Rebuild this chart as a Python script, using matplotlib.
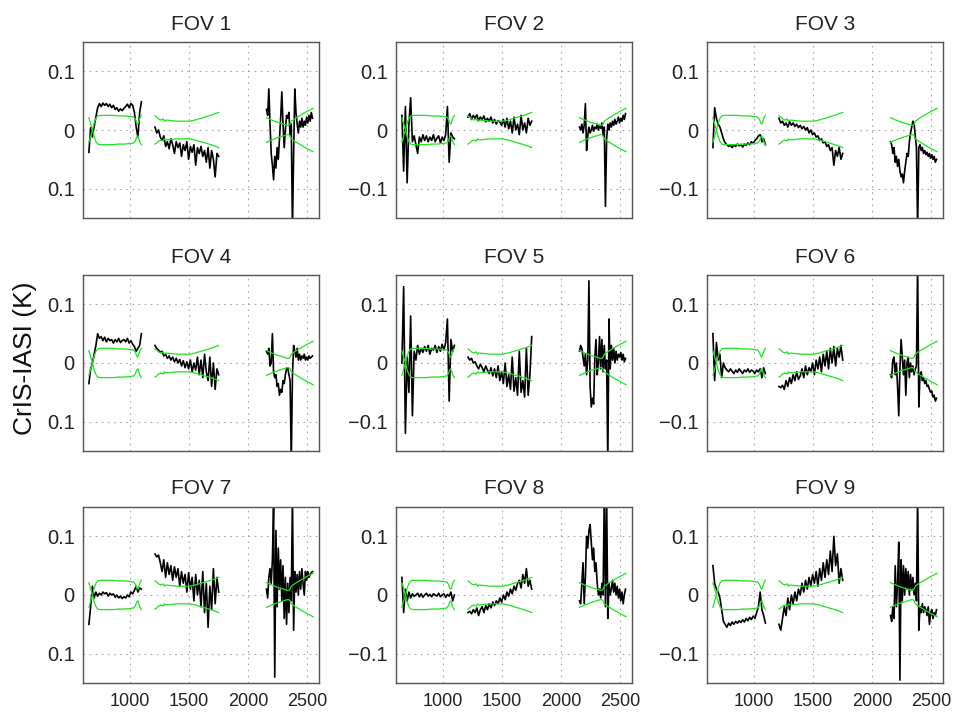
import numpy as np
import matplotlib
matplotlib.use("Agg")
import matplotlib.pyplot as plt

plt.rcParams["font.family"] = ["Liberation Sans", "DejaVu Sans"]

# spectral bands (cm-1): LW, MW, SW
bands = [(650, 1095), (1210, 1750), (2155, 2545)]

# noise envelope in mK; the lower curve is the mirror image
env_lw_x = [650, 665, 680, 695, 710, 725, 750, 800, 850, 900, 950, 1000, 1030, 1045, 1055, 1065, 1075, 1085, 1095]
env_lw = [-21, -10, 0, 12, 20, 24, 25, 25, 25, 24, 24, 23, 22, 18, 12, 10, 16, 22, 25]
env_mw_x = [1210, 1225, 1240, 1260, 1280, 1290, 1300, 1350, 1400, 1450, 1500, 1550, 1600, 1650, 1700, 1750]
env_mw = [24, 22, 19, 17, 19, 15, 17, 16, 15, 15, 15, 17, 20, 23, 26, 30]
env_sw_x = [2155, 2200, 2250, 2300, 2330, 2345, 2355, 2365, 2400, 2450, 2500, 2550]
env_sw = [21, 17, 13, 10, 8, 8, 10, 15, 20, 26, 32, 37]

# CrIS minus IASI, mK, evenly spaced across each band
fov1_lw = [-38, 4, -12, 6, 22, 38, 45, 40, 46, 42, 45, 40, 44, 38, 42, 35, 38, 32, 36, 33, 37, 40, 44, 38, 45, 42, 30, 5, -12, 30, 48]
fov1_mw = [5, -5, 0, -12, -18, -10, -28, -20, -32, -15, -25, -40, -20, -30, -22, -45, -25, -35, -20, -50, -28, -38, -25, -60, -30, -40, -28, -45, -35, -55, -30, -65, -35, -50, -80, -40, -45]
fov1_sw = [35, 25, 70, 10, -40, -60, -85, -45, -65, -30, -50, -15, 20, 65, 10, -30, 0, 25, 20, 30, -10, 10, -170, -40, 70, 30, 10, -5, 15, 5, 20, 5, 15, 8, 22, 12, 25, 15, 30, 20]

fov2_lw = [25, -70, 40, -90, 10, 55, -20, -10, -25, -40, -12, -20, -8, -18, -10, -20, -12, -18, -8, -20, -14, -10, -22, -12, -18, -8, 40, -55, -5, -12, -15]
fov2_mw = [22, 28, 18, 25, 20, 26, 16, 22, 18, 24, 14, 20, 15, 22, 12, 18, 10, 16, 14, 8, 18, 5, 20, 2, 15, -5, 22, 0, 10, -8, 25, 0, 12, -5, 20, 8, 15]
fov2_sw = [5, 0, 10, -5, 8, 45, -35, -10, 5, -5, 0, 8, -2, 5, 2, 10, 0, 8, 3, 12, -10, 5, -130, -15, 10, 0, 12, 5, 15, 8, 18, 10, 15, 22, 12, 20, 15, 25, 18, 28]

fov3_lw = [-30, 38, 20, 10, 5, -5, -15, -22, -25, -28, -26, -30, -25, -28, -24, -27, -25, -29, -24, -26, -22, -25, -20, -23, -18, -15, -10, -8, -20, -15, -25]
fov3_mw = [20, 12, 15, 8, 12, 5, 14, 8, 12, 6, 10, 4, 8, 2, 6, 0, 4, -5, 0, -8, -5, -12, -10, -18, -15, -22, -20, -28, -25, -35, -30, -60, -35, -45, -30, -50, -40]
fov3_sw = [-20, -25, -40, -30, -55, -45, -62, -50, -70, -80, -75, -90, -70, -55, -40, -45, -20, -5, 5, 15, 10, -10, -30, -170, -30, -25, -35, -30, -40, -35, -42, -38, -45, -40, -48, -42, -50, -45, -55, -50]

fov4_lw = [-35, -10, 0, 15, 30, 50, 42, 45, 38, 44, 36, 42, 38, 40, 34, 40, 36, 42, 35, 38, 40, 36, 42, 34, 38, 32, 28, 20, 25, 30, 50]
fov4_mw = [30, 25, 22, 18, 20, 12, 15, 8, 12, 5, 10, 2, 8, 0, 6, -5, 4, -8, 2, -10, 5, -15, 0, -12, 10, -20, 5, -25, 15, -15, -30, 10, -40, 0, -45, -10, -20]
fov4_sw = [20, 15, 25, -5, 0, 50, -15, -25, -20, -40, -35, -55, -45, -50, -30, -35, -20, -10, -8, -20, -30, -170, -20, 30, 20, 10, 25, 5, 15, 5, 12, 8, 15, 5, 10, 5, 12, 8, 10, 12]

fov5_lw = [0, 130, -120, 10, -50, 80, -90, 20, 5, 30, 15, 25, 18, 28, 20, 30, 15, 25, 22, 30, 18, 28, 20, 32, 22, 35, 75, -65, 40, 20, 30]
fov5_mw = [10, 5, 8, 0, 2, -5, -10, -2, -8, -15, -5, -12, -18, -8, -22, -10, -25, -5, -30, -15, -35, 0, -40, -20, -45, 10, -48, -25, -55, 20, -50, -30, -58, 25, -55, -20, 45]
fov5_sw = [20, 30, 25, 10, -5, 15, -20, 5, 140, -40, -75, -60, -70, 10, 40, -20, 0, 45, -10, 40, -15, 30, -10, 5, -170, 75, -10, 30, 5, 25, 0, 20, 5, 15, 10, 18, 5, 15, 2, 8]

fov6_lw = [50, -30, 35, 5, 15, -25, 0, -8, -12, -15, -10, -14, -18, -12, -16, -10, -14, -18, -12, -15, -10, -16, -12, -14, -18, -12, -15, -10, -25, -8, -18]
fov6_mw = [-40, -42, -38, -45, -30, -40, -25, -35, -20, -30, -15, -28, -22, -10, -25, -5, -20, -8, -15, 0, -20, 5, -10, 10, -15, 15, -5, 20, -10, 25, 0, 28, -5, 25, 10, 30, 5]
fov6_sw = [-20, -25, 5, 10, -20, 0, -40, -90, -10, 40, 10, -20, 5, -55, 0, 10, -25, 0, -15, -5, -20, -10, -5, 170, -75, -20, -15, -30, -25, -35, -30, -40, -38, -45, -50, -48, -58, -55, -65, -60]

fov7_lw = [-50, -20, 15, -5, 5, -2, 3, 0, 5, 2, 4, -2, 3, 0, 2, -4, 0, -5, -2, -6, -3, -5, 0, -3, 5, 2, 8, 15, 5, 12, 10]
fov7_mw = [70, 65, 68, 55, 40, 60, 30, 55, 35, 50, 25, 48, 30, 45, 15, 40, 20, 35, 5, 38, 10, 30, -10, 35, 0, 25, -20, 40, -30, 20, -55, 15, -25, 45, -15, 30, 5]
fov7_sw = [10, -5, 30, 45, 20, 60, 150, -140, 110, -20, 80, 10, 60, -10, 50, -40, 30, -50, 20, -30, 30, -10, 170, -60, 40, 5, 35, 0, 40, 10, 45, 20, 0, 40, 25, 40, 30, 35, 38, 40]

fov8_lw = [30, -30, 10, -10, 5, -5, 2, -2, 0, 3, -3, 2, -4, 0, 3, -2, 1, -3, 2, 0, -2, 3, -3, 0, 2, -4, 1, -2, 5, -10, 0]
fov8_mw = [-30, -28, -32, -25, -30, -22, -35, -25, -20, -30, -18, -25, -15, -22, -12, -18, -10, -15, -5, -12, 0, -8, 5, -2, 10, 2, 15, 8, 20, 25, 12, 35, 20, 45, 15, 25, 10]
fov8_sw = [-10, -15, 20, 55, -15, 30, 100, 80, 110, 120, 90, 60, 80, 40, 55, 20, 0, 10, -5, 20, 0, 170, -20, 170, -40, 20, 0, 10, 25, 5, 20, 0, 15, -5, 10, -10, 5, -15, 0, 10]

fov9_lw = [50, 20, 10, 5, -5, -25, -45, -50, -55, -48, -52, -46, -50, -45, -48, -44, -47, -42, -46, -40, -44, -38, -42, -36, -40, -30, -20, 5, -25, -35, -48]
fov9_mw = [-50, -60, -40, -20, -35, -5, -25, 0, -15, 5, -10, 10, 0, 20, 5, 25, 10, 30, 15, 35, 20, 40, 15, 45, 25, 55, 30, 60, 35, 75, 40, 100, 50, 70, 20, 45, 25]
fov9_sw = [-35, -45, -20, -40, 50, -20, 20, 90, -145, 60, -10, 50, 0, 45, 10, 40, 0, 35, 10, 30, 0, 20, -10, 170, -60, -20, -30, -15, -30, -20, -25, -35, -20, -50, -30, -25, -40, -30, -35, -25]

fovs = [
    (fov1_lw, fov1_mw, fov1_sw), (fov2_lw, fov2_mw, fov2_sw), (fov3_lw, fov3_mw, fov3_sw),
    (fov4_lw, fov4_mw, fov4_sw), (fov5_lw, fov5_mw, fov5_sw), (fov6_lw, fov6_mw, fov6_sw),
    (fov7_lw, fov7_mw, fov7_sw), (fov8_lw, fov8_mw, fov8_sw), (fov9_lw, fov9_mw, fov9_sw),
]
envs = [(env_lw_x, env_lw), (env_mw_x, env_mw), (env_sw_x, env_sw)]

GREEN = "#1ee31e"
fig = plt.figure(figsize=(9.56, 7.17), dpi=100)
lefts = [83 / 956, 396 / 956, 707 / 956]
bottoms = [1 - 218 / 717, 1 - 451 / 717, 1 - 683 / 717]
w, h = 236 / 956, 176 / 717

for k, spec in enumerate(fovs):
    r, c = divmod(k, 3)
    ax = fig.add_axes([lefts[c], bottoms[r], w, h])
    for (lo, hi), vals in zip(bands, spec):
        x = np.linspace(lo, hi, len(vals))
        ax.plot(x, np.array(vals) / 1000, color="black", lw=1.2, zorder=2)
    for ex, ev in envs:
        ev = np.array(ev) / 1000
        ax.plot(ex, ev, color=GREEN, lw=0.9, zorder=3)
        ax.plot(ex, -ev, color=GREEN, lw=0.9, zorder=3)
    ax.set_xlim(600, 2600)
    ax.set_ylim(-0.15, 0.15)
    ax.set_xticks([1000, 1500, 2000, 2500])
    ax.set_yticks([-0.1, 0, 0.1])
    if c == 0:
        ax.set_yticklabels(["0.1", "0", "0.1"])
    else:
        ax.set_yticklabels(["\u22120.1", "0", "0.1"])
    if r < 2:
        ax.set_xticklabels([])
    ax.grid(True, ls=(0, (1.5, 4)), color="#a8a8a8", lw=0.8)
    ax.tick_params(axis="y", length=0, labelsize=14.5, pad=6, colors="#222222")
    ax.tick_params(axis="x", length=0, labelsize=13, pad=7, colors="#222222")
    for s in ax.spines.values():
        s.set_color("#555555")
        s.set_linewidth(1.0)
    ax.set_title(f"FOV {k + 1}", fontsize=15, pad=9, color="#222222")

fig.text(0.026, 0.5, "CrIS-IASI (K)", rotation=90, ha="center", va="center", fontsize=19, color="#111111")
fig.savefig("out.png", dpi=100)
